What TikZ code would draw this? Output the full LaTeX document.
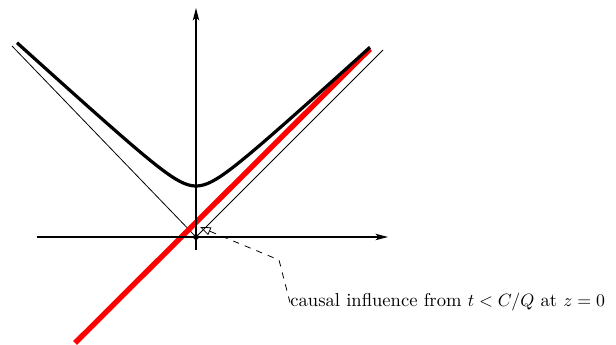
\documentclass[tikz,border=0pt]{standalone}
\usetikzlibrary{arrows.meta}
\begin{document}
\begin{tikzpicture}[x=0.5617pt,y=-0.5617pt,
  axis/.style={line width=0.8pt,-{Stealth[length=7pt,width=3.6pt,inset=1.6pt]}},
  cone/.style={line width=0.45pt},
  traj/.style={line width=1.8pt},
  redline/.style={line width=3pt,red},
  pointer/.style={line width=0.45pt,dash pattern=on 3.5pt off 3.5pt,-{Triangle[open,length=6pt,width=4.6pt]}}]
\useasboundingbox (0,0) rectangle (616,345);
\coordinate (O) at (196,237);
\coordinate (xs) at (37,237);
\coordinate (xe) at (388,237);
\coordinate (ys) at (196,250);
\coordinate (ye) at (196,8);
\coordinate (cl) at (12,46);
\coordinate (cr) at (383,50);
\coordinate (rs) at (75,343);
\coordinate (re) at (370,49);
\coordinate (bend) at (279,260);
\coordinate (tail) at (214,233);
\coordinate (tip) at (200,227);
\draw[cone] (cl) -- (O) -- (cr);
\draw[redline] (rs) -- (re);
\draw[traj,domain=-179:174,samples=150,smooth] plot ({196+\x},{237-30-10*sqrt(2.1*2.1+(0.091*\x)*(0.091*\x))});
\draw[axis] (xs) -- (xe);
\draw[axis] (ys) -- (ye);
\draw[line width=0.6pt] (O) circle[radius=2.2];
\node[anchor=base west,inner sep=0pt,font=\fontsize{10.45}{12.5}\selectfont] (lbl) at (290,307) {causal influence from $t<C/Q$ at $z=0$};
\draw[pointer] (lbl.west) -- (bend) -- (tail) -- (tip);
\end{tikzpicture}
\end{document}
